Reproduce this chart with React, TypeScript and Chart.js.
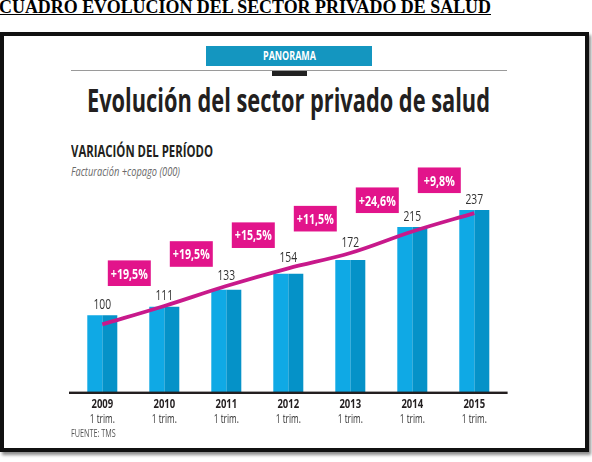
import React, { useEffect, useLayoutEffect, useRef } from "react";
import { Chart, registerables } from "chart.js";

Chart.register(...registerables);

// ---- data ----
const categories = ["2009", "2010", "2011", "2012", "2013", "2014", "2015"];
const periodLabels = ["1 trim.", "1 trim.", "1 trim.", "1 trim.", "1 trim.", "1 trim.", "1 trim."];
const billingValues = [100, 111, 133, 154, 172, 215, 237];
const trendValues = [88, 112, 138, 161, 181, 209, 233];
const changeLabels = ["+19,5%", "+19,5%", "+15,5%", "+11,5%", "+24,6%", "+9,8%"];

const SANS = "'Open Sans', 'Noto Sans', 'DejaVu Sans', sans-serif";
const MAGENTA_BOX = "#e2148b";
const MAGENTA_LINE = "#c8198b";
const BAR_LIGHT = "#0fa9e5";
const BAR_DARK = "#0592c8";
const INK = "#231f20";

function FitText(props: { text: string; left: number; top: number; width: number; style?: React.CSSProperties }) {
  const ref = useRef<HTMLSpanElement>(null);
  useLayoutEffect(() => {
    const fit = () => {
      const el = ref.current;
      if (!el) return;
      el.style.transform = "none";
      const w = el.getBoundingClientRect().width;
      if (w > 0) el.style.transform = `scaleX(${props.width / w})`;
    };
    fit();
    if ((document as any).fonts && (document as any).fonts.ready) {
      (document as any).fonts.ready.then(fit);
    }
  }, [props.text, props.width]);
  return (
    <span
      ref={ref}
      style={{
        position: "absolute",
        left: props.left,
        top: props.top,
        whiteSpace: "nowrap",
        display: "inline-block",
        transformOrigin: "0 0",
        ...props.style,
      }}
    >
      {props.text}
    </span>
  );
}

const annotPlugin = {
  id: "annot",
  afterDatasetsDraw(chart: any) {
    const ctx: CanvasRenderingContext2D = chart.ctx;
    const xs = chart.scales.x;
    const area = chart.chartArea;
    const barMeta = chart.getDatasetMeta(0);
    const lineMeta = chart.getDatasetMeta(2);

    const factorFor = (font: string, sample: string, target: number) => {
      ctx.font = font;
      return target / ctx.measureText(sample).width;
    };
    const drawFit = (txt: string, cx: number, baseline: number, font: string, color: string, f: number) => {
      ctx.save();
      ctx.font = font;
      ctx.fillStyle = color;
      ctx.textAlign = "center";
      ctx.textBaseline = "alphabetic";
      ctx.translate(cx, baseline);
      ctx.scale(f, 1);
      ctx.fillText(txt, 0, 0);
      ctx.restore();
    };

    ctx.save();
    // axis line
    ctx.fillStyle = INK;
    ctx.fillRect(area.left - 2.3, area.bottom - 0.4, area.right - area.left + 4.6, 2.4);

    // value labels
    const valFont = `400 15px ${SANS}`;
    const fVal = factorFor(valFont, "100", 17.7);
    billingValues.forEach((v, i) => {
      const cx = xs.getPixelForValue(i);
      const top = Math.min(barMeta.data[i].y, lineMeta.data[i].y);
      drawFit(String(v), cx, top - 6, valFont, "#333333", fVal);
    });

    // tick labels
    const yearFont = `700 13px ${SANS}`;
    const fYear = factorFor(yearFont, "2009", 21.7);
    const trimFont = `400 12.5px ${SANS}`;
    const fTrim = factorFor(trimFont, "1 trim.", 25);
    categories.forEach((c, i) => {
      const cx = xs.getPixelForValue(i);
      drawFit(c, cx, area.bottom + 16.3, yearFont, INK, fYear);
      drawFit(periodLabels[i], cx, area.bottom + 31.3, trimFont, "#333333", fTrim);
    });

    // change boxes
    const boxFont = `700 15px ${SANS}`;
    const fBox = factorFor(boxFont, "+19,5%", 37);
    changeLabels.forEach((t, i) => {
      const cx = (xs.getPixelForValue(i) + xs.getPixelForValue(i + 1)) / 2 - 4;
      const cy = (lineMeta.data[i].y + lineMeta.data[i + 1].y) / 2 - 42;
      const w = 43;
      const h = 25.6;
      ctx.fillStyle = MAGENTA_BOX;
      ctx.fillRect(cx - w / 2, cy - h / 2, w, h);
      drawFit(t, cx, cy + 5.3, boxFont, "#ffffff", fBox);
    });
    ctx.restore();
  },
};

function ChartCanvas() {
  const ref = useRef<HTMLCanvasElement>(null);
  useEffect(() => {
    if (!ref.current) return;
    const chart = new Chart(ref.current, {
      type: "bar",
      data: {
        labels: categories,
        datasets: [
          {
            type: "bar",
            label: "Facturación (claro)",
            data: billingValues,
            backgroundColor: BAR_LIGHT,
            borderWidth: 0,
            categoryPercentage: 0.484,
            barPercentage: 1,
            order: 2,
          },
          {
            type: "bar",
            label: "Facturación (oscuro)",
            data: billingValues,
            backgroundColor: BAR_DARK,
            borderWidth: 0,
            categoryPercentage: 0.484,
            barPercentage: 1,
            order: 2,
          },
          {
            type: "line",
            label: "Tendencia",
            data: trendValues,
            borderColor: MAGENTA_LINE,
            borderWidth: 3.8,
            tension: 0.35,
            pointRadius: 0,
            fill: false,
            order: 0,
          } as any,
        ],
      },
      options: {
        responsive: false,
        animation: false,
        events: [],
        layout: { padding: { left: 71.3, right: 86.7, top: 161.6, bottom: 70 } },
        plugins: { legend: { display: false }, tooltip: { enabled: false }, title: { display: false } },
        scales: {
          x: { display: false, grid: { display: false } },
          y: { display: false, min: 0, max: 300 },
        },
      },
      plugins: [annotPlugin],
    });
    return () => chart.destroy();
  }, []);
  return (
    <canvas
      ref={ref}
      width={592}
      height={462}
      style={{ position: "absolute", left: 0, top: 0, width: 592, height: 462 }}
    />
  );
}

export default function App() {
  return (
    <div
      style={{
        position: "fixed",
        left: 0,
        top: 0,
        width: 592,
        height: 462,
        overflow: "hidden",
        background: "#ffffff",
      }}
    >
      <FitText
        text="CUADRO EVOLUCIÓN DEL SECTOR PRIVADO DE SALUD"
        left={-1}
        top={-2}
        width={492}
        style={{
          fontFamily: "'Liberation Serif', 'Times New Roman', serif",
          fontWeight: 700,
          fontSize: 18,
          lineHeight: "18px",
          color: "#000",
          textDecoration: "underline",
        }}
      />
      <div
        style={{
          position: "absolute",
          left: 0,
          top: 32,
          width: 589,
          height: 420,
          boxSizing: "border-box",
          border: "4px solid #111",
          boxShadow: "2px 3px 3px rgba(0,0,0,0.45)",
          background: "#fff",
        }}
      />
      <div style={{ position: "absolute", left: 206, top: 46, width: 166, height: 20, background: "#1496c0" }} />
      <FitText
        text="PANORAMA"
        left={263}
        top={48}
        width={53}
        style={{ fontFamily: SANS, fontWeight: 700, fontSize: 12, lineHeight: "15px", color: "#fff" }}
      />
      <div style={{ position: "absolute", left: 71, top: 70, width: 436, height: 1, background: "#9a9a9a" }} />
      <div style={{ position: "absolute", left: 272, top: 71, width: 35, height: 5, background: "#222" }} />
      <FitText
        text="Evolución del sector privado de salud"
        left={87}
        top={83.6}
        width={403}
        style={{ fontFamily: SANS, fontWeight: 700, fontSize: 32, lineHeight: "32px", color: INK }}
      />
      <FitText
        text="VARIACIÓN DEL PERÍODO"
        left={71}
        top={144.2}
        width={142}
        style={{ fontFamily: SANS, fontWeight: 700, fontSize: 15.5, lineHeight: "15.5px", color: INK }}
      />
      <FitText
        text="Facturación +copago (000)"
        left={71}
        top={165}
        width={109}
        style={{ fontFamily: SANS, fontStyle: "italic", fontSize: 13.5, lineHeight: "13.5px", color: "#6a6a6a" }}
      />
      <ChartCanvas />
      <FitText
        text="FUENTE: TMS"
        left={71}
        top={428.4}
        width={44.7}
        style={{ fontFamily: SANS, fontSize: 10, lineHeight: "10px", color: "#555" }}
      />
    </div>
  );
}
